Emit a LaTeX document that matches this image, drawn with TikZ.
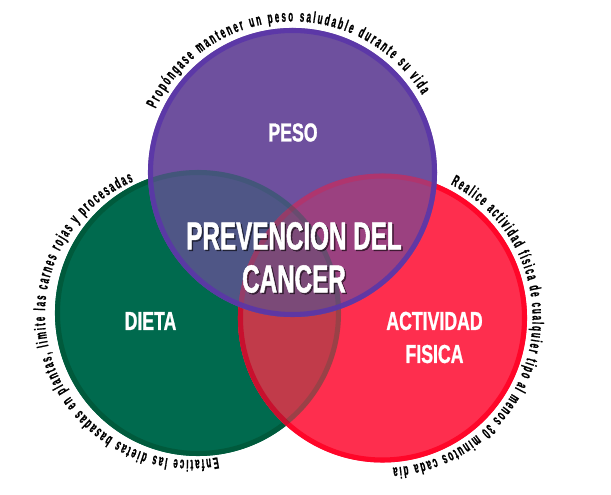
\documentclass[tikz,border=0pt]{standalone}
\usepackage{fontspec}
\usetikzlibrary{decorations.text}
\newfontfamily\condfont[FakeStretch=0.62,FakeBold=1.2]{Liberation Sans}
\newfontfamily\areafont[FakeStretch=0.68,FakeBold=1]{Liberation Sans}
\newfontfamily\arcfont[FakeStretch=0.50,FakeBold=1]{Liberation Sans}
\newcommand\curvefont{\arcfont\bfseries\fontsize{12}{13}\selectfont}
\definecolor{pesoFill}{HTML}{6E509E}
\definecolor{pesoLine}{HTML}{5B36A8}
\definecolor{dietaFill}{HTML}{006A4E}
\definecolor{dietaLine}{HTML}{005A3C}
\definecolor{actFill}{HTML}{FE2E4E}
\definecolor{actLine}{HTML}{FF0629}
\definecolor{actDark}{HTML}{C8102E}
\definecolor{dietaAct}{HTML}{C13B4A}
\definecolor{pesoDieta}{HTML}{4F5686}
\definecolor{pesoAct}{HTML}{9B4180}
\definecolor{allThree}{HTML}{7B4A78}

\begin{document}
\begin{tikzpicture}[x=0.75pt,y=0.75pt,
 title/.style={text=white,inner sep=0pt,align=center,font=\condfont\bfseries\fontsize{29.3}{32.3}\selectfont},
 area/.style={text=white,inner sep=0pt,align=center,font=\areafont\bfseries\fontsize{19.5}{24.8}\selectfont},
 ring/.style={line width=3.8pt},
 arctext/.style={decorate,decoration={text along path,text align=fit to path,text={#1}}}
]
\useasboundingbox (0,0) rectangle (611,495);
\coordinate (cpeso) at (292.5,322.5);
\coordinate (cdieta) at (198,182);
\coordinate (cact) at (382.5,177);

% circulos
\fill[dietaFill] (cdieta) circle[radius=143];
\draw[dietaLine,ring] (cdieta) circle[radius=140.5];
\fill[actFill] (cact) circle[radius=144.5];
\draw[ring,actLine] (cact) circle[radius=142];
\begin{scope}
 \clip (cdieta) circle[radius=143];
 \fill[dietaAct] (cact) circle[radius=144.5];
 \draw[ring,actDark] (cact) circle[radius=142];
\end{scope}
\begin{scope}
 \clip (cact) circle[radius=140];
 \draw[ring,dietaLine,opacity=.2] (cdieta) circle[radius=140.5];
\end{scope}

\fill[pesoFill] (cpeso) circle[radius=144.5];
\begin{scope}
 \clip (cpeso) circle[radius=144.5];
 \fill[pesoDieta] (cdieta) circle[radius=143];
 \fill[pesoAct] (cact) circle[radius=144.5];
 \begin{scope}
  \clip (cdieta) circle[radius=143];
  \fill[allThree] (cact) circle[radius=144.5];
 \end{scope}
 \draw[ring,actLine,opacity=.2] (cact) circle[radius=142];
 \draw[ring,dietaLine,opacity=.15] (cdieta) circle[radius=140.5];
\end{scope}
\draw[ring,pesoLine,opacity=.9] (cpeso) circle[radius=142];

% etiquetas
\node[area] (peso) at (293,362.5) {PESO};
\node[area] (dieta) at (150.5,174) {DIETA};
\node[area] (actividad) at (434.5,157.5) {ACTIVIDAD\\FISICA};
\node[title,text=black,opacity=.5] (sombra) at (295.5,236) {PREVENCION DEL\\CANCER};
\node[title] (prevencion) at (294,237.5) {PREVENCION DEL\\CANCER};

% textos curvos
\path[arctext={|\curvefont|Propóngase mantener un peso saludable durante su vida}]
 (cpeso) ++(155:151) arc[start angle=155,end angle=31,radius=151];
\path[arctext={|\curvefont|Enfatice las dietas basadas en plantas, limite las carnes rojas y procesadas}]
 (190,180) ++(-79:145) arc[start angle=-79,end angle=-247,radius=145];
\path[arctext={|\curvefont|Realice actividad física de cualquier tipo al menos 30 minutos cada dia}]
 (cact) ++(63:150) arc[start angle=63,end angle=-86,radius=150];
\end{tikzpicture}
\end{document}
